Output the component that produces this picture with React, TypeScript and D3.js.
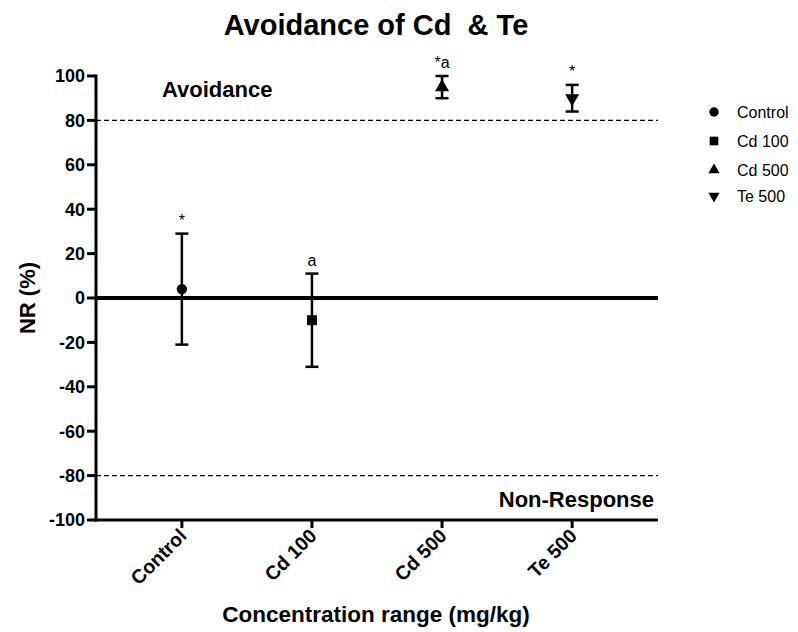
import React from "react";
import * as d3 from "d3";

const categories = ["Control", "Cd 100", "Cd 500", "Te 500"];
const means = [4, -10, 95, 90];
const errors = [25, 21, 5, 6];
const annotations = ["*", "a", "*a", "*"];
const symbolsKind = ["circle", "square", "triangle", "triangleDown"];
const yTicks = [-100, -80, -60, -40, -20, 0, 20, 40, 60, 80, 100];
const thresholds = [80, -80];

const W = 798;
const H = 632;
const FONT = "'Liberation Sans', Arial, Helvetica, sans-serif";

function symbolPath(kind: string, size: number) {
  if (kind === "circle") return d3.symbol(d3.symbolCircle, size)()!;
  if (kind === "square") return d3.symbol(d3.symbolSquare, size)()!;
  return d3.symbol(d3.symbolTriangle, size)()!;
}

export default function App() {
  const x = d3.scalePoint<string>().domain(categories).range([96, 658]).padding(0.66);
  const y = d3.scaleLinear().domain([-100, 100]).range([520, 76]);
  const x0 = 96;
  const x1 = 658;

  return (
    <svg width={W} height={H} style={{ position: "absolute", left: 0, top: 0, background: "#fff" }} fontFamily={FONT}>
      <rect width={W} height={H} fill="#fff" />
      {/* title */}
      <text x={376} y={35} textAnchor="middle" fontSize={29} fontWeight="bold" style={{ whiteSpace: "pre" }}>
        {"Avoidance of Cd  & Te"}
      </text>

      {/* threshold dashed lines */}
      {thresholds.map((t) => (
        <line key={t} x1={x0} x2={x1} y1={y(t)} y2={y(t)} stroke="#000" strokeWidth={1.3} strokeDasharray="5,3" />
      ))}

      {/* zero line */}
      <line x1={x0} x2={x1} y1={y(0)} y2={y(0)} stroke="#000" strokeWidth={4} />

      {/* region labels */}
      <text x={162} y={97} fontSize={22} fontWeight="bold">Avoidance</text>
      <text x={654} y={507} fontSize={22} fontWeight="bold" textAnchor="end">Non-Response</text>

      {/* y axis */}
      <line x1={x0} x2={x0} y1={y(100) - 1.5} y2={y(-100) + 1.5} stroke="#000" strokeWidth={3} />
      {yTicks.map((t) => (
        <g key={t}>
          <line x1={x0 - 9} x2={x0} y1={y(t)} y2={y(t)} stroke="#000" strokeWidth={3} />
          <text x={x0 - 11} y={y(t)} dy="0.36em" textAnchor="end" fontSize={18} fontWeight="bold">
            {t}
          </text>
        </g>
      ))}
      <text
        transform={`translate(35,${y(0)}) rotate(-90)`}
        textAnchor="middle"
        fontSize={22}
        fontWeight="bold"
      >
        NR (%)
      </text>

      {/* x axis */}
      <line x1={x0 - 1.5} x2={x1} y1={y(-100)} y2={y(-100)} stroke="#000" strokeWidth={3} />
      {categories.map((c) => (
        <g key={c}>
          <line x1={x(c)!} x2={x(c)!} y1={y(-100)} y2={y(-100) + 8} stroke="#000" strokeWidth={3} />
          <text
            transform={`translate(${x(c)! + 6},${y(-100) + 17}) rotate(-45)`}
            textAnchor="end"
            fontSize={19.5}
            fontWeight="bold"
          >
            {c}
          </text>
        </g>
      ))}
      <text x={376} y={622} textAnchor="middle" fontSize={22.5} fontWeight="bold">
        Concentration range (mg/kg)
      </text>

      {/* error bars + markers */}
      {categories.map((c, i) => {
        const cx = x(c)!;
        const top = y(means[i] + errors[i]);
        const bot = y(means[i] - errors[i]);
        const kind = symbolsKind[i];
        const rot = kind === "triangleDown" ? 180 : 0;
        return (
          <g key={c}>
            <line x1={cx} x2={cx} y1={top} y2={bot} stroke="#000" strokeWidth={2.5} />
            <line x1={cx - 6.5} x2={cx + 6.5} y1={top} y2={top} stroke="#000" strokeWidth={2.5} />
            <line x1={cx - 6.5} x2={cx + 6.5} y1={bot} y2={bot} stroke="#000" strokeWidth={2.5} />
            <path
              d={symbolPath(kind, kind === "circle" ? 85 : kind === "square" ? 100 : 85)}
              transform={`translate(${cx},${y(means[i])}) rotate(${rot})`}
              fill="#000"
            />
            <text x={cx} y={top - 8} textAnchor="middle" fontSize={16}>
              {annotations[i]}
            </text>
          </g>
        );
      })}

      {/* legend */}
      {categories.map((c, i) => {
        const ly = [112, 141, 170, 196][i];
        const kind = symbolsKind[i];
        const rot = kind === "triangleDown" ? 180 : 0;
        return (
          <g key={c}>
            <path
              d={symbolPath(kind, kind === "circle" ? 70 : kind === "square" ? 75 : 55)}
              transform={`translate(714,${ly}) rotate(${rot})`}
              fill="#000"
            />
            <text x={737} y={ly} dy="0.36em" fontSize={16}>
              {c}
            </text>
          </g>
        );
      })}
    </svg>
  );
}
